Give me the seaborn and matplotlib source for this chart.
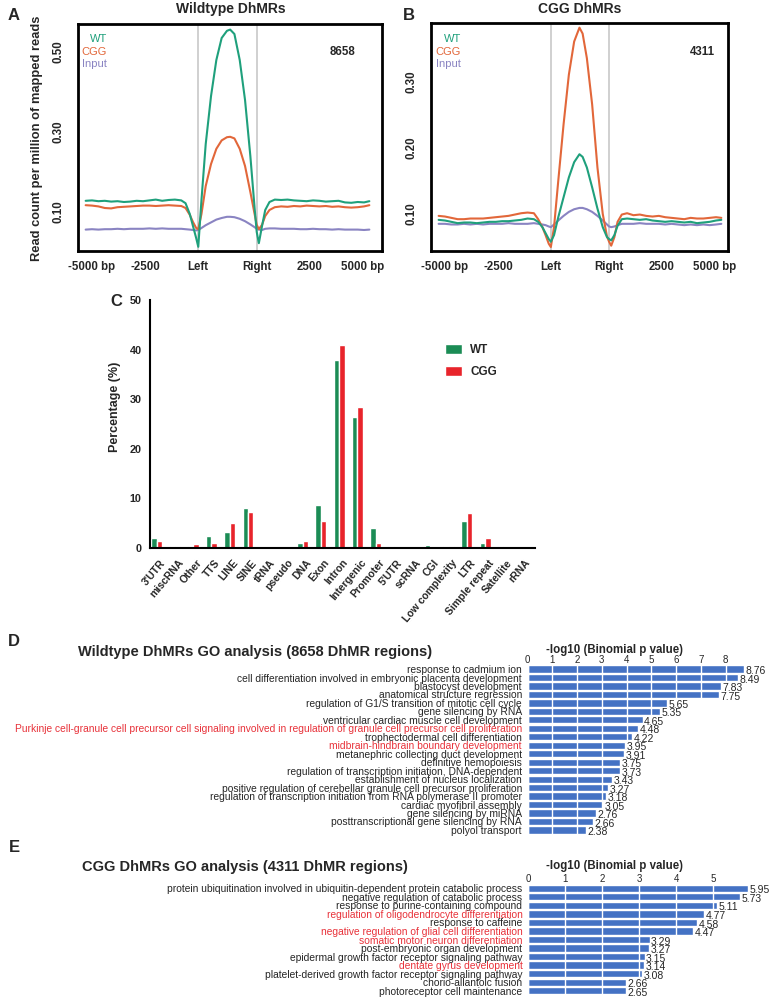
import numpy as np
import pandas as pd
import matplotlib
matplotlib.use("Agg")
import matplotlib.pyplot as plt
from matplotlib import font_manager
import seaborn as sns

# === A/B: read-count profiles around DhMRs ===
# bins: 0-100 = 5 kb upstream, 100-155 = DhMR body, 155-255 = 5 kb downstream
BINS = [-6, 0, 6, 12, 18, 24, 30, 36, 42, 48, 54, 60, 66, 72, 78, 84, 88, 92, 95, 98, 100,
        103, 107, 112, 117, 122, 127, 130, 134, 139, 144, 149, 153, 155,
        157, 160, 163, 167, 172, 178, 184, 190, 196, 202, 208, 214, 220, 226, 232, 238, 244, 250, 256, 261]
BIN_TICKS = [0, 50, 100, 155, 205, 255]
BIN_LABELS = ["-5000 bp", "-2500", "Left", "Right", "2500", "5000 bp"]
SAMPLES = ["WT", "CGG", "Input"]

A_WT = [0.128, 0.129, 0.127, 0.128, 0.126, 0.127, 0.125, 0.126, 0.128, 0.127, 0.129, 0.131, 0.128, 0.130,
        0.131, 0.129, 0.122, 0.095, 0.065, 0.035, 0.013,
        0.13, 0.27, 0.39, 0.48, 0.535, 0.553, 0.556, 0.545, 0.48, 0.38, 0.24, 0.11, 0.05,
        0.022, 0.065, 0.105, 0.125, 0.131, 0.130, 0.131, 0.129, 0.128, 0.127, 0.129, 0.128, 0.126, 0.127,
        0.128, 0.124, 0.123, 0.125, 0.124, 0.127]
A_CGG = [0.117, 0.116, 0.114, 0.110, 0.109, 0.112, 0.113, 0.114, 0.115, 0.116, 0.116, 0.115, 0.116, 0.117,
         0.116, 0.115, 0.110, 0.093, 0.075, 0.060, 0.057,
         0.095, 0.165, 0.22, 0.258, 0.279, 0.287, 0.288, 0.284, 0.258, 0.215, 0.15, 0.095, 0.068,
         0.057, 0.068, 0.09, 0.105, 0.112, 0.114, 0.113, 0.115, 0.114, 0.116, 0.115, 0.114, 0.115, 0.113,
         0.114, 0.112, 0.111, 0.112, 0.114, 0.117]
A_INPUT = [0.056, 0.057, 0.056, 0.057, 0.057, 0.058, 0.057, 0.058, 0.058, 0.058, 0.059, 0.058, 0.059, 0.058,
           0.058, 0.058, 0.057, 0.056, 0.055, 0.054, 0.055,
           0.060, 0.067, 0.074, 0.081, 0.085, 0.088, 0.088, 0.087, 0.083, 0.077, 0.069, 0.062, 0.058,
           0.056, 0.055, 0.058, 0.059, 0.059, 0.058, 0.058, 0.058, 0.057, 0.057, 0.058, 0.057, 0.057, 0.056,
           0.057, 0.056, 0.056, 0.056, 0.055, 0.056]

B_WT = [0.091, 0.090, 0.088, 0.086, 0.087, 0.087, 0.086, 0.087, 0.088, 0.088, 0.089, 0.089, 0.090, 0.091,
        0.093, 0.092, 0.088, 0.080, 0.071, 0.062, 0.058,
        0.068, 0.095, 0.125, 0.155, 0.178, 0.19, 0.186, 0.17, 0.14, 0.108, 0.08, 0.065, 0.062,
        0.060, 0.068, 0.082, 0.092, 0.093, 0.092, 0.091, 0.092, 0.090, 0.089, 0.088, 0.089, 0.088, 0.087,
        0.088, 0.086, 0.087, 0.088, 0.090, 0.091]
B_CGG = [0.097, 0.096, 0.094, 0.092, 0.092, 0.093, 0.093, 0.093, 0.094, 0.095, 0.096, 0.097, 0.099, 0.101,
         0.102, 0.101, 0.092, 0.080, 0.068, 0.055, 0.050,
         0.08, 0.15, 0.235, 0.31, 0.36, 0.381, 0.372, 0.335, 0.265, 0.17, 0.10, 0.066, 0.058,
         0.052, 0.065, 0.088, 0.099, 0.101, 0.098, 0.099, 0.097, 0.096, 0.097, 0.095, 0.094, 0.093, 0.092,
         0.094, 0.093, 0.093, 0.094, 0.095, 0.094]
B_INPUT = [0.085, 0.085, 0.084, 0.084, 0.085, 0.084, 0.085, 0.084, 0.085, 0.085, 0.085, 0.086, 0.085, 0.085,
           0.085, 0.086, 0.085, 0.084, 0.083, 0.081, 0.080,
           0.084, 0.090, 0.097, 0.103, 0.107, 0.109, 0.109, 0.107, 0.103, 0.097, 0.090, 0.084, 0.081,
           0.080, 0.081, 0.083, 0.085, 0.085, 0.085, 0.086, 0.085, 0.085, 0.085, 0.084, 0.085, 0.084, 0.083,
           0.084, 0.083, 0.084, 0.083, 0.084, 0.085]

# === C: genomic annotation of DhMRs (%) ===
REGIONS = ["3'UTR", "miscRNA", "Other", "TTS", "LINE", "SINE", "tRNA", "pseudo", "DNA", "Exon",
           "Intron", "Intergenic", "Promoter", "5'UTR", "scRNA", "CGI", "Low complexity", "LTR",
           "Simple repeat", "Satellite", "rRNA"]
PCT_WT = [2.1, 0.5, 0.5, 2.5, 3.2, 8.0, 0.0, 0.0, 1.0, 8.75, 38.0, 26.4, 4.0, 0.5, 0.0, 0.6, 0.4, 5.4, 1.1, 0.5, 0.0]
PCT_CGG = [1.4, 0.4, 0.9, 1.0, 5.0, 7.3, 0.0, 0.3, 1.5, 5.4, 41.0, 28.5, 1.1, 0.3, 0.0, 0.3, 0.35, 7.0, 1.95, 0.0, 0.3]
GROUPS = ["WT", "CGG"]

# === D: Wildtype DhMRs GO terms ===
D_TERMS = ["response to cadmium ion",
           "cell differentiation involved in embryonic placenta development",
           "blastocyst development",
           "anatomical structure regression",
           "regulation of G1/S transition of mitotic cell cycle",
           "gene silencing by RNA",
           "ventricular cardiac muscle cell development",
           "Purkinje cell-granule cell precursor cell signaling involved in regulation of granule cell precursor cell proliferation",
           "trophectodermal cell differentiation",
           "midbrain-hindbrain boundary development",
           "metanephric collecting duct development",
           "definitive hemopoiesis",
           "regulation of transcription initiation, DNA-dependent",
           "establishment of nucleus localization",
           "positive regulation of cerebellar granule cell precursor proliferation",
           "regulation of transcription initiation from RNA polymerase II promoter",
           "cardiac myofibril assembly",
           "gene silencing by miRNA",
           "posttranscriptional gene silencing by RNA",
           "polyol transport"]
D_VALUES = [8.76, 8.49, 7.83, 7.75, 5.65, 5.35, 4.65, 4.48, 4.22, 3.95,
            3.91, 3.75, 3.73, 3.43, 3.27, 3.18, 3.05, 2.76, 2.66, 2.38]
D_RED = ["Purkinje cell-granule cell precursor cell signaling involved in regulation of granule cell precursor cell proliferation",
         "midbrain-hindbrain boundary development"]

# === E: CGG DhMRs GO terms ===
E_TERMS = ["protein ubiquitination involved in ubiquitin-dependent protein catabolic process",
           "negative regulation of catabolic process",
           "response to purine-containing compound",
           "regulation of oligodendrocyte differentiation",
           "response to caffeine",
           "negative regulation of glial cell differentiation",
           "somatic motor neuron differentiation",
           "post-embryonic organ development",
           "epidermal growth factor receptor signaling pathway",
           "dentate gyrus development",
           "platelet-derived growth factor receptor signaling pathway",
           "chorio-allantoic fusion",
           "photoreceptor cell maintenance"]
E_VALUES = [5.95, 5.73, 5.11, 4.77, 4.58, 4.47, 3.29, 3.27, 3.15, 3.14, 3.08, 2.66, 2.65]
E_RED = ["regulation of oligodendrocyte differentiation",
         "negative regulation of glial cell differentiation",
         "somatic motor neuron differentiation",
         "dentate gyrus development"]

# --- styles ---
PROFILE_COLORS = {"WT": "#1fa07c", "CGG": "#e2673a", "Input": "#8a84c2"}
C_COLORS = {"WT": "#1b8c55", "CGG": "#e8242b"}
BAR_BLUE = "#4472c4"
RED_TXT = "#e8323a"

sns.set_style("white")
installed = {f.name for f in font_manager.fontManager.ttflist}
NARROW = "Liberation Sans Narrow" if "Liberation Sans Narrow" in installed else "Liberation Sans"
plt.rcParams["font.family"] = ["Liberation Sans", "DejaVu Sans"]

W, H = 773, 999
fig = plt.figure(figsize=(W / 100, H / 100), dpi=100)


def add_ax(l, t, r, b):
    return fig.add_axes([l / W, 1 - b / H, (r - l) / W, (b - t) / H])


def ftext(x, y, s, **kw):
    fig.text(x / W, 1 - y / H, s, **kw)


def profile_panel(box, curves, ylim, yticks, xlim):
    ax = add_ax(*box)
    df = pd.DataFrame({
        "bin": BINS * len(SAMPLES),
        "rpm": [v for c in curves for v in c],
        "sample": [s for s in SAMPLES for _ in BINS],
    })
    ax.axvline(100, color="#c8c8c8", lw=1.2, zorder=0)
    ax.axvline(155, color="#c8c8c8", lw=1.2, zorder=0)
    sns.lineplot(data=df, x="bin", y="rpm", hue="sample", hue_order=SAMPLES[::-1],
                 palette=PROFILE_COLORS, linewidth=1.5, legend=False,
                 estimator=None, sort=False, ax=ax)
    ax.set_xlim(*xlim)
    ax.set_ylim(*ylim)
    ax.set_xticks(BIN_TICKS, labels=BIN_LABELS)
    ax.set_yticks(yticks, labels=[f"{v:.2f}" for v in yticks])
    ax.set_xlabel("")
    ax.set_ylabel("")
    for sp in ax.spines.values():
        sp.set_linewidth(2)
        sp.set_color("black")
    ax.tick_params(axis="both", direction="out", length=5, width=1.5, labelsize=8.3, color="black")
    ax.tick_params(axis="x", pad=2)
    ax.tick_params(axis="y", pad=5)
    plt.setp(ax.get_xticklabels(), fontweight="bold")
    plt.setp(ax.get_yticklabels(), fontweight="bold", rotation=90, va="center")
    return ax


# ---- A ----
profile_panel((78, 24, 382, 251), [A_WT, A_CGG, A_INPUT], (0.0025, 0.57), [0.10, 0.30, 0.50], (-13.2, 272.9))
ftext(231, 9, "Wildtype DhMRs", ha="center", va="center", fontsize=10, fontweight="bold")
ftext(13.5, 15, "A", ha="center", va="center", fontsize=12, fontweight="bold")
ftext(37, 138, "Read count per million of mapped reads", rotation=90, ha="center", va="center",
      fontsize=9.3, fontweight="bold")
for name, yy in zip(SAMPLES, [39, 52, 64]):
    ftext(107, yy, name, ha="right", va="center", fontsize=8, color=PROFILE_COLORS[name])
ftext(343, 52, "8658", ha="center", va="center", fontsize=8.3, fontweight="bold")

# ---- B ----
profile_panel((431, 23, 728, 251), [B_WT, B_CGG, B_INPUT], (0.044, 0.388), [0.10, 0.20, 0.30], (-13.2, 267.3))
ftext(579.5, 9, "CGG DhMRs", ha="center", va="center", fontsize=10, fontweight="bold")
ftext(409, 15, "B", ha="center", va="center", fontsize=12, fontweight="bold")
for name, yy in zip(SAMPLES, [39, 52, 64]):
    ftext(461, yy, name, ha="right", va="center", fontsize=8, color=PROFILE_COLORS[name])
ftext(702, 52, "4311", ha="center", va="center", fontsize=8.3, fontweight="bold")

# ---- C ----
ax_c = add_ax(150, 300, 535, 548)
df_c = pd.DataFrame({
    "region": REGIONS * 2,
    "pct": PCT_WT + PCT_CGG,
    "group": ["WT"] * len(REGIONS) + ["CGG"] * len(REGIONS),
})
sns.barplot(data=df_c, x="region", y="pct", hue="group", order=REGIONS, hue_order=GROUPS,
            palette=C_COLORS, width=0.6, saturation=1, ax=ax_c)
ax_c.set_xlim(-0.37, 20.73)
ax_c.set_ylim(0, 50)
ax_c.set_yticks(range(0, 51, 10))
ax_c.set_xticks(np.arange(len(REGIONS)) + 0.16, labels=REGIONS)
ax_c.set_xlabel("")
ax_c.set_ylabel("")
sns.despine(ax=ax_c)
for side in ["left", "bottom"]:
    ax_c.spines[side].set_linewidth(1.5)
    ax_c.spines[side].set_color("black")
ax_c.tick_params(axis="both", direction="out", length=4, width=1.5, color="black")
ax_c.tick_params(axis="y", pad=2, labelsize=7.8)
ax_c.tick_params(axis="x", pad=3, labelsize=7.5)
plt.setp(ax_c.get_yticklabels(), fontweight="bold", family=NARROW)
plt.setp(ax_c.get_xticklabels(), fontweight="bold", rotation=50, ha="right",
         rotation_mode="anchor", family=NARROW)
handles, labels = ax_c.get_legend_handles_labels()
ax_c.legend(handles, labels, loc="upper left", bbox_to_anchor=(0.766, 0.823), frameon=False,
            handlelength=1.45, handleheight=0.95, labelspacing=0.85, handletextpad=0.7,
            borderpad=0, borderaxespad=0,
            prop={"weight": "bold", "size": 8.5, "family": NARROW})
ftext(116, 301, "C", ha="center", va="center", fontsize=12, fontweight="bold")
ftext(115, 407, "Percentage (%)", rotation=90, ha="center", va="center", fontsize=9, fontweight="bold")


# ---- D / E ----
def go_panel(box, terms, values, red_terms, xmax):
    ax = add_ax(*box)
    sns.barplot(x=values, y=terms, orient="h", color=BAR_BLUE, width=0.85, saturation=1, ax=ax)
    ax.set_xlim(0, xmax)
    ax.set_ylim(len(terms) - 0.5, -0.5)
    ax.xaxis.tick_top()
    ax.set_xticks(range(int(xmax)))
    ax.set_xlabel("")
    ax.set_ylabel("")
    ax.grid(axis="x", color="white", lw=1)
    ax.set_axisbelow(False)
    sns.despine(ax=ax, left=True, bottom=True, top=True, right=True)
    ax.tick_params(axis="x", length=0, pad=0, labelsize=7)
    ax.tick_params(axis="y", length=0, pad=4, labelsize=7.4)
    for lbl in ax.get_yticklabels():
        if lbl.get_text() in red_terms:
            lbl.set_color(RED_TXT)
    for i, v in enumerate(values):
        ax.annotate(f"{v:.2f}", (v, i), xytext=(1, -1.5), textcoords="offset points",
                    ha="left", va="center", fontsize=7.5, annotation_clip=False)
    return ax


go_panel((527.5, 664.8, 750.3, 834.2), D_TERMS, D_VALUES, D_RED, 9)
ftext(14, 642, "D", ha="center", va="center", fontsize=12, fontweight="bold")
ftext(78, 652, "Wildtype DhMRs GO analysis (8658 DhMR regions)", ha="left", va="center",
      fontsize=10.5, fontweight="bold")
ftext(614, 650, "-log10 (Binomial p value)", ha="center", va="center", fontsize=8.3, fontweight="bold")

go_panel((528, 884, 750, 995), E_TERMS, E_VALUES, E_RED, 6)
ftext(14, 847, "E", ha="center", va="center", fontsize=12, fontweight="bold")
ftext(82, 867, "CGG DhMRs GO analysis (4311 DhMR regions)", ha="left", va="center",
      fontsize=10.5, fontweight="bold")
ftext(615, 866, "-log10 (Binomial p value)", ha="center", va="center", fontsize=8.3, fontweight="bold")

fig.savefig("out.png", dpi=100)
